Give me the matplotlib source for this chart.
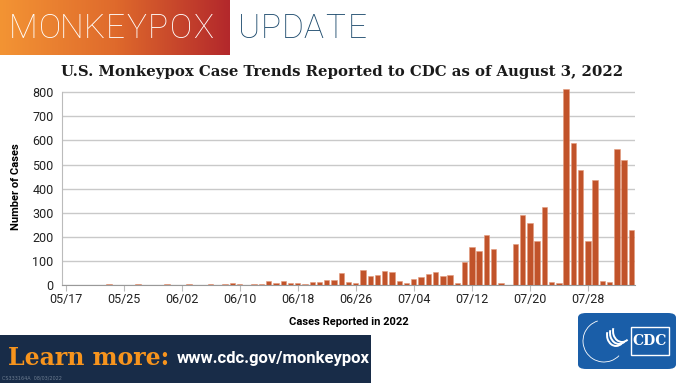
import numpy as np
import pandas as pd
import matplotlib
matplotlib.use("Agg")
import matplotlib.pyplot as plt
import matplotlib.dates as mdates
from matplotlib.patches import Rectangle, FancyBboxPatch, Arc

# daily reported cases, 05/17/2022 .. 08/03/2022
dates = pd.date_range("2022-05-17", "2022-08-03", freq="D")
cases = [1, 0, 1, 1, 2, 1, 4, 1, 2, 2, 3, 1, 1, 2, 3, 1, 2, 5, 2, 0, 3, 2, 4,
         7, 4, 1, 4, 4, 15, 10, 17, 8, 8, 3, 12, 14, 19, 19, 48, 12, 8,
         61, 39, 41, 57, 54, 15, 8, 24, 35, 46, 53, 36, 41, 7, 95,
         156, 140, 209, 151, 7, 1, 169, 292, 256, 184, 322, 12, 7,
         813, 588, 477, 184, 436, 15, 14, 563, 517, 228]
tick_dates = pd.date_range("2022-05-17", "2022-07-28", freq="8D")
y_ticks = [0, 100, 200, 300, 400, 500, 600, 700, 800]

NARROW = ["Roboto", "DejaVu Sans"]

W, H = 680, 383
fig = plt.figure(figsize=(W / 100, H / 100), dpi=100)
fig.patch.set_facecolor("white")


def fx(px):
    return px / W


def fy(py):
    return 1 - py / H


# header gradient block
hax = fig.add_axes([0, fy(55), fx(230), 55 / H])
grad = np.linspace(0, 1, 256).reshape(1, -1)
cmap = matplotlib.colors.LinearSegmentedColormap.from_list(
    "hdr", ["#f39434", "#df6a2c", "#b3282b"])
hax.imshow(grad, aspect="auto", cmap=cmap, extent=[0, 1, 0, 1])
hax.axis("off")

hdr_x = [23, 50, 72, 94, 115, 136, 158, 181, 203]
for x, ch in zip(hdr_x, "MONKEYPOX"):
    fig.text(fx(x), fy(29), ch, color="white", fontsize=24, fontweight="light",
             ha="center", va="center", family=NARROW)
for i, ch in enumerate("UPDATE"):
    fig.text(fx(249 + i * 21.6), fy(29), ch, color="#1f4c6e", fontsize=24,
             fontweight="light", ha="center", va="center", family=NARROW)

fig.text(fx(342), fy(72), "U.S. Monkeypox Case Trends Reported to CDC as of August 3, 2022",
         ha="center", va="center", fontsize=10.7, fontweight="bold",
         family="DejaVu Serif", color="#1a1a1a")

# chart
ymax = 820
ax = fig.add_axes([fx(62), fy(285), fx(573), (192.7 * ymax / 800) / H])
ax.bar(dates, cases, width=0.75, color="#c1532a", edgecolor="#e39a7c",
       linewidth=0.4, zorder=3)
ax.set_ylim(0, ymax)
ax.set_xlim(dates[0] - pd.Timedelta(hours=12), dates[-1] + pd.Timedelta(hours=12))
ax.set_yticks(y_ticks)
ax.set_xticks(tick_dates)
ax.xaxis.set_major_formatter(mdates.DateFormatter("%m/%d"))
ax.yaxis.grid(True, color="#c9c9c9", linewidth=1.0, zorder=0)
for s in ["top", "right"]:
    ax.spines[s].set_visible(False)
ax.spines["left"].set_bounds(0, 800)
ax.spines["left"].set_color("#bbbbbb")
ax.spines["bottom"].set_color("#999999")
ax.tick_params(axis="y", length=0, labelsize=9, pad=6, colors="#222222")
ax.tick_params(axis="x", length=4, color="#bbbbbb", labelsize=9, pad=2,
               colors="#222222")
for lab in ax.get_xticklabels() + ax.get_yticklabels():
    lab.set_family(NARROW)
ax.set_ylabel("Number of Cases", fontsize=8, fontweight="bold", labelpad=8,
              family=NARROW)
ax.set_xlabel("Cases Reported in 2022", fontsize=8, fontweight="bold",
              labelpad=8, family=NARROW)

# bottom banner
fig.patches.append(Rectangle((0, 0), fx(371), 48 / H, transform=fig.transFigure,
                             facecolor="#182c48", edgecolor="none"))
fig.text(fx(8), fy(358), "Learn more:", color="#f7941d", fontsize=17,
         fontweight="bold", family="DejaVu Serif", va="center", ha="left")
fig.text(fx(177), fy(358), "www.cdc.gov/monkeypox", color="white", fontsize=12,
         fontweight="bold", va="center", ha="left", family=NARROW)
fig.text(fx(2), fy(378), "CS333164A  08/03/2022", color="#6c7c90", fontsize=3.5,
         va="center", ha="left")

# CDC logo
fig.patches.append(FancyBboxPatch((fx(578), fy(369)), fx(98), 56 / H,
                                  boxstyle="round,pad=0,rounding_size=0.012",
                                  transform=fig.transFigure,
                                  facecolor="#1a5ea8", edgecolor="none"))
fig.patches.append(Rectangle((fx(631), fy(355)), fx(38), 28 / H,
                             transform=fig.transFigure, facecolor="#1a5ea8",
                             edgecolor="white", linewidth=1.0))
fig.text(fx(650), fy(341), "CDC", color="white", fontsize=10, fontweight="bold",
         family="DejaVu Serif", ha="center", va="center")
fig.patches.append(Arc((fx(604), fy(341)), fx(42), 42 / H,
                       theta1=100, theta2=300, transform=fig.transFigure,
                       color="white", linewidth=0.6))
for k in range(3):
    fig.patches.append(Arc((fx(616 + k * 3), fy(335 - k * 2)),
                           fx(18), 22 / H, theta1=150, theta2=290,
                           transform=fig.transFigure,
                           color="white", linewidth=1.4))

fig.savefig("out.png", dpi=100)
